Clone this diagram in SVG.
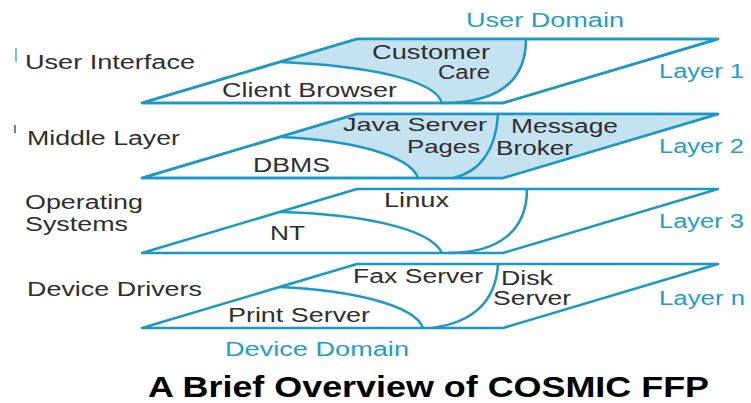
<svg xmlns="http://www.w3.org/2000/svg" width="751" height="403" viewBox="0 0 751 403">
  <style>
    .edge { fill: none; stroke: #1b98c6; stroke-width: 2.5; stroke-linejoin: round; }
    .plane { fill: #ffffff; stroke: #1b98c6; stroke-width: 2.5; stroke-linejoin: round; }
    .shade { fill: #c4e2ef; stroke: none; }
    .lbl { font-family: "Liberation Sans", Arial, sans-serif; font-size: 20px; fill: #2e2e2e; }
    .sm { font-size: 19px; }
    .blue { fill: #1f9dcb; }
    .title { font-family: "Liberation Sans", Arial, sans-serif; font-size: 30px; font-weight: bold; fill: #000000; }
  </style>
  <rect width="751" height="403" fill="#ffffff"/>

  <!-- small edge marks at the left margin -->
  <line x1="16" y1="48" x2="16" y2="62" stroke="#1b98c6" stroke-width="1.2"/>
  <line x1="15" y1="125" x2="15" y2="133" stroke="#222" stroke-width="1.2"/>

  <!-- Layer 1: user interface plane -->
  <g id="layer1">
    <polygon class="plane" points="142,103 357,39 718,39 503,103"/>
    <path class="shade" d="M281,62 L357,39 L526,39 C526,80 500,103 442,103 C435,80 370,66 281,62 Z"/>
    <polygon class="edge" points="142,103 357,39 718,39 503,103"/>
    <path class="edge" d="M281,62 C370,66 435,80 442,103"/>
    <path class="edge" d="M526,39 C526,80 500,103 442,103"/>
    <text class="lbl" x="372" y="59" textLength="118" lengthAdjust="spacingAndGlyphs">Customer</text>
    <text class="lbl" x="438" y="79" textLength="52" lengthAdjust="spacingAndGlyphs">Care</text>
    <text class="lbl" x="222" y="97" textLength="175" lengthAdjust="spacingAndGlyphs">Client Browser</text>
  </g>

  <!-- Layer 2: middle layer plane -->
  <g id="layer2">
    <polygon class="plane" points="142,178 357,114 718,114 503,178"/>
    <path class="shade" d="M281,137 L357,114 L718,114 L503,178 L418,178 C410,155 350,140 281,137 Z"/>
    <polygon class="edge" points="142,178 357,114 718,114 503,178"/>
    <path class="edge" d="M281,137 C350,140 410,155 418,178"/>
    <path class="edge" d="M498,114 C496,150 480,172 453,178"/>
    <text class="lbl" x="253" y="172" textLength="77" lengthAdjust="spacingAndGlyphs">DBMS</text>
    <text class="lbl sm" x="343" y="131" textLength="144" lengthAdjust="spacingAndGlyphs">Java Server</text>
    <text class="lbl sm" x="407" y="153" textLength="73" lengthAdjust="spacingAndGlyphs">Pages</text>
    <text class="lbl" x="511" y="133" textLength="107" lengthAdjust="spacingAndGlyphs">Message</text>
    <text class="lbl" x="496" y="155" textLength="77" lengthAdjust="spacingAndGlyphs">Broker</text>
  </g>

  <!-- Layer 3: operating systems plane -->
  <g id="layer3">
    <polygon class="plane" points="142,253 357,189 718,189 503,253"/>
    <path class="edge" d="M280,212 C360,214 430,228 442,253"/>
    <path class="edge" d="M527,189 C527,230 500,253 448,253"/>
    <text class="lbl" x="270" y="240" textLength="35" lengthAdjust="spacingAndGlyphs">NT</text>
    <text class="lbl" x="384" y="207" textLength="65" lengthAdjust="spacingAndGlyphs">Linux</text>
  </g>

  <!-- Layer n: device drivers plane -->
  <g id="layern">
    <polygon class="plane" points="142,328 357,264 718,264 503,328"/>
    <path class="edge" d="M280,287 C350,290 415,305 423,328"/>
    <path class="edge" d="M498,264 C496,300 475,322 432,328"/>
    <text class="lbl" x="353" y="283" textLength="130" lengthAdjust="spacingAndGlyphs">Fax Server</text>
    <text class="lbl" x="501" y="285" textLength="52" lengthAdjust="spacingAndGlyphs">Disk</text>
    <text class="lbl" x="493" y="305" textLength="78" lengthAdjust="spacingAndGlyphs">Server</text>
    <text class="lbl" x="228" y="322" textLength="142" lengthAdjust="spacingAndGlyphs">Print Server</text>
  </g>

  <!-- row names on the left -->
  <g id="row-names">
    <text class="lbl" x="25" y="69" textLength="170" lengthAdjust="spacingAndGlyphs">User Interface</text>
    <text class="lbl" x="27" y="145" textLength="153" lengthAdjust="spacingAndGlyphs">Middle Layer</text>
    <text class="lbl" x="25" y="209" textLength="118" lengthAdjust="spacingAndGlyphs">Operating</text>
    <text class="lbl" x="25" y="231" textLength="103" lengthAdjust="spacingAndGlyphs">Systems</text>
    <text class="lbl" x="27" y="296" textLength="175" lengthAdjust="spacingAndGlyphs">Device Drivers</text>
  </g>

  <!-- layer tags on the right and domain captions -->
  <g id="layer-tags">
    <text class="lbl blue" x="659" y="78" textLength="85" lengthAdjust="spacingAndGlyphs">Layer 1</text>
    <text class="lbl blue" x="659" y="153" textLength="85" lengthAdjust="spacingAndGlyphs">Layer 2</text>
    <text class="lbl blue" x="659" y="228" textLength="85" lengthAdjust="spacingAndGlyphs">Layer 3</text>
    <text class="lbl blue" x="659" y="305" textLength="86" lengthAdjust="spacingAndGlyphs">Layer n</text>
    <text class="lbl blue" x="466" y="27" textLength="158" lengthAdjust="spacingAndGlyphs">User Domain</text>
    <text class="lbl blue" x="225" y="356" textLength="184" lengthAdjust="spacingAndGlyphs">Device Domain</text>
  </g>

  <text class="title" x="148" y="397" textLength="561" lengthAdjust="spacingAndGlyphs">A Brief Overview of COSMIC FFP</text>
</svg>
